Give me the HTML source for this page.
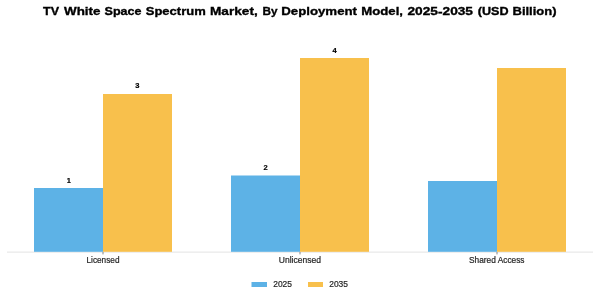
<!DOCTYPE html>
<html><head><meta charset="utf-8">
<style>
html,body{margin:0;padding:0;background:#fff;}
body{width:600px;height:300px;overflow:hidden;}
svg{display:block;will-change:transform;}
text{font-family:"Liberation Sans",sans-serif;}
</style></head>
<body>
<svg width="600" height="300" viewBox="0 0 600 300">
<rect x="0" y="0" width="600" height="300" fill="#fff"/>
<g font-size="11.4" font-weight="bold" fill="#000" stroke="#000" stroke-width="0.35" transform="translate(0,15.1)">
<text x="43.0" textLength="16.0" lengthAdjust="spacingAndGlyphs">TV</text><text x="64.0" textLength="36.5" lengthAdjust="spacingAndGlyphs">White</text><text x="104.5" textLength="37.0" lengthAdjust="spacingAndGlyphs">Space</text><text x="145.75" textLength="60.0" lengthAdjust="spacingAndGlyphs">Spectrum</text><text x="210.0" textLength="47.75" lengthAdjust="spacingAndGlyphs">Market,</text><text x="262.5" textLength="15.0" lengthAdjust="spacingAndGlyphs">By</text><text x="281.25" textLength="75.75" lengthAdjust="spacingAndGlyphs">Deployment</text><text x="361.25" textLength="41.75" lengthAdjust="spacingAndGlyphs">Model,</text><text x="407.5" textLength="65.5" lengthAdjust="spacingAndGlyphs">2025-2035</text><text x="477.75" textLength="30.75" lengthAdjust="spacingAndGlyphs">(USD</text><text x="512.5" textLength="44.0" lengthAdjust="spacingAndGlyphs">Billion)</text>
</g>
<rect x="7" y="251.6" width="586" height="1" fill="#e3e3e3"/>
<g fill="#6a6a6a">
<rect x="102.6" y="251.8" width="0.8" height="2.6"/>
<rect x="299.6" y="251.8" width="0.8" height="2.6"/>
<rect x="496.6" y="251.8" width="0.8" height="2.6"/>
</g>
<g>
<rect x="34" y="188" width="69" height="63.8" fill="#5DB2E6"/>
<rect x="103" y="94" width="69" height="157.8" fill="#F8C04C"/>
<rect x="231" y="175.5" width="69" height="76.3" fill="#5DB2E6"/>
<rect x="300" y="58" width="69" height="193.8" fill="#F8C04C"/>
<rect x="428" y="181" width="69" height="70.8" fill="#5DB2E6"/>
<rect x="497" y="68" width="69" height="183.8" fill="#F8C04C"/>
</g>
<g font-size="7.5" font-weight="bold" fill="#000" stroke="#000" stroke-width="0.2" text-anchor="middle">
<text x="68.8" y="182.8">1</text>
<text x="137.3" y="88.4">3</text>
<text x="265.7" y="170">2</text>
<text x="334.5" y="52.7">4</text>
</g>
<g font-size="8.2" fill="#262626" stroke="#262626" stroke-width="0.2" transform="translate(0,262.6)">
<text x="86.5" textLength="33.0" lengthAdjust="spacingAndGlyphs">Licensed</text>
<text x="278.75" textLength="42.25" lengthAdjust="spacingAndGlyphs">Unlicensed</text>
<text x="469.0" textLength="55.5" lengthAdjust="spacingAndGlyphs">Shared Access</text>
</g>
<rect x="251.5" y="282" width="15.5" height="5" fill="#5DB2E6"/>
<rect x="308" y="282" width="15" height="5" fill="#F8C04C"/>
<g font-size="8.3" fill="#262626" stroke="#262626" stroke-width="0.2" transform="translate(0,286.6)">
<text x="273.25" textLength="18.75" lengthAdjust="spacingAndGlyphs">2025</text>
<text x="329.25" textLength="18.75" lengthAdjust="spacingAndGlyphs">2035</text>
</g>
</svg>
</body></html>
